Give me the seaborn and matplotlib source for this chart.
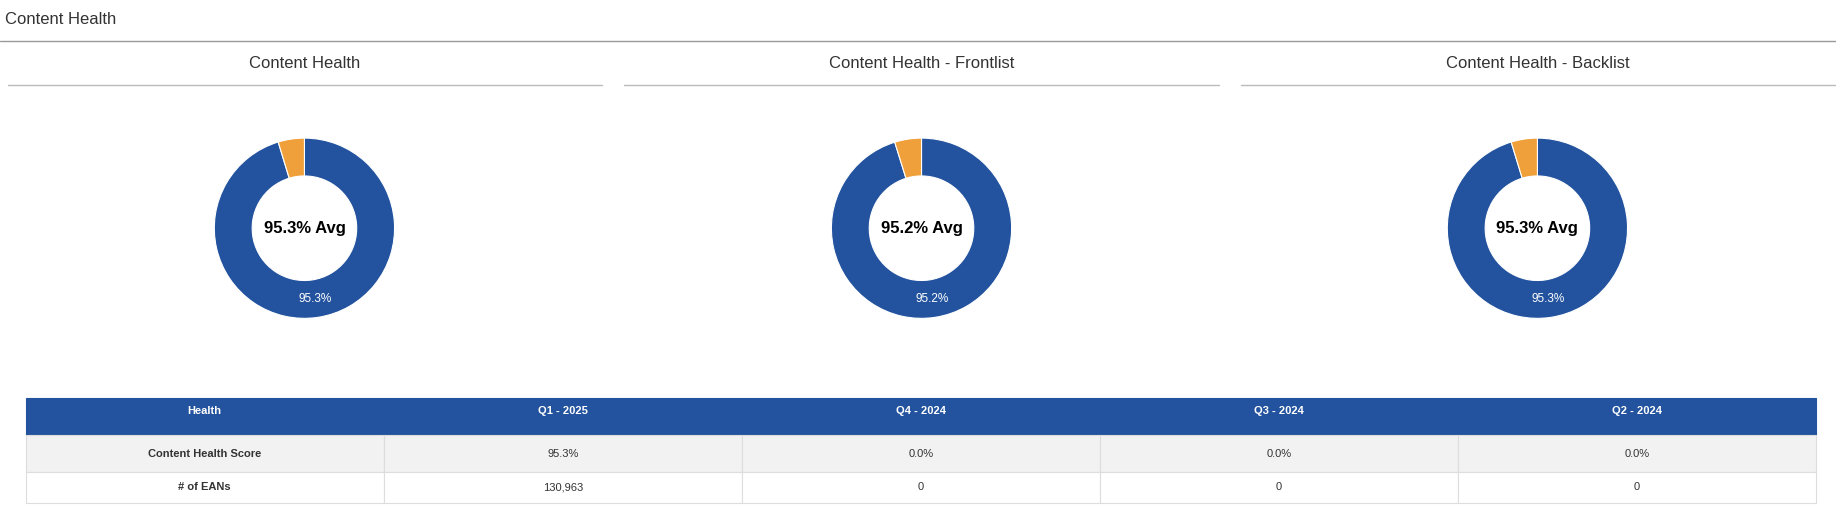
import matplotlib
matplotlib.use("Agg")
import matplotlib.pyplot as plt
import seaborn as sns
from matplotlib.patches import Rectangle
from matplotlib.lines import Line2D

sns.set_theme(style="white")
plt.rcParams["font.family"] = ["Liberation Sans", "DejaVu Sans"]

page_title = "Content Health"
chart_titles = ["Content Health", "Content Health - Frontlist", "Content Health - Backlist"]
health_scores = [95.3, 95.2, 95.3]
table_header = ["Health", "Q1 - 2025", "Q4 - 2024", "Q3 - 2024", "Q2 - 2024"]
table_rows = [
    ["Content Health Score", "95.3%", "0.0%", "0.0%", "0.0%"],
    ["# of EANs", "130,963", "0", "0", "0"],
]

BLUE = "#23539e"
ORANGE = "#f0a03a"
W, H = 1568, 446  # reference layout units


def fx(x):
    return x / W


def fy(y):
    return 1 - y / H


fig = plt.figure(figsize=(18.36, 5.22), dpi=100)
fig.patch.set_facecolor("white")

fig.text(fx(4), fy(17), page_title, fontsize=12, color="#333333", va="center")
fig.add_artist(Line2D([0, 1], [fy(35), fy(35)], color="#999999", lw=1))

centers = [260, 787, 1313]
spans = [(7, 514), (533, 1041), (1060, 1568)]
for cx, (x0, x1), title, score in zip(centers, spans, chart_titles, health_scores):
    fig.text(fx(cx), fy(54), title, fontsize=12, color="#333333", ha="center", va="center")
    fig.add_artist(Line2D([fx(x0), fx(x1)], [fy(73), fy(73)], color="#bbbbbb", lw=1))

    r = 77
    ax = fig.add_axes([fx(cx - r), fy(195 + r), fx(2 * r), (2 * r) / H])
    ax.pie([score, 100 - score], colors=[BLUE, ORANGE], startangle=90, counterclock=False,
           radius=1, wedgeprops=dict(width=0.42, edgecolor="white", linewidth=0.8),
           autopct=lambda p: f"{p:.1f}%" if p > 50 else "", pctdistance=0.79,
           textprops=dict(color="white", fontsize=8.5))
    ax.text(0, 0, f"{score:.1f}% Avg", ha="center", va="center", fontsize=12,
            fontweight="bold", color="black")
    ax.set_xlim(-1, 1)
    ax.set_ylim(-1, 1)
    ax.set_aspect("equal")
    ax.axis("off")

# table
tx0, tx1 = 22, 1551
col_w = (tx1 - tx0) / len(table_header)
row_edges = [(340, 372), (372, 403), (403, 430)]
fills = [BLUE, "#f2f2f2", "white"]
for ri, ((y0, y1), fill) in enumerate(zip(row_edges, fills)):
    cells = table_header if ri == 0 else table_rows[ri - 1]
    for ci, txt in enumerate(cells):
        x0 = tx0 + ci * col_w
        fig.add_artist(Rectangle((fx(x0), fy(y1)), fx(col_w), (y1 - y0) / H,
                                 facecolor=fill, edgecolor=fill if ri == 0 else "#dddddd",
                                 lw=0.8, transform=fig.transFigure))
        bold = ri == 0 or ci == 0
        ty = y0 + 11 if ri == 0 else (y0 + y1) / 2
        fig.text(fx(x0 + col_w / 2), fy(ty), txt, ha="center", va="center", fontsize=8,
                 fontweight="bold" if bold else "normal",
                 color="white" if ri == 0 else "#333333")

fig.savefig("out.png", dpi=100, facecolor="white")
